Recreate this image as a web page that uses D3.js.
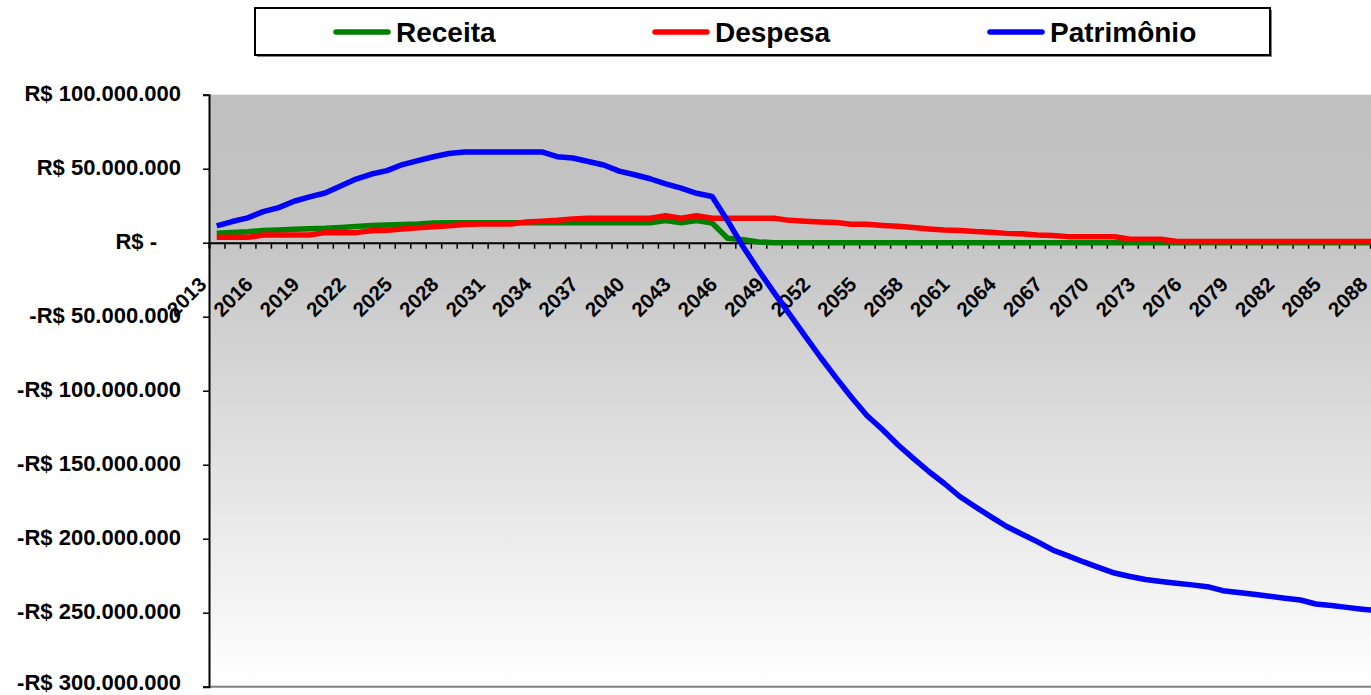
<!DOCTYPE html>
<html>
<head>
<meta charset="utf-8">
<title>Receita, Despesa e Patrimônio</title>
<script src="https://d3js.org/d3.v7.min.js"></script>
<style>
  body { margin: 0; background: #fff; }
  svg { display: block; font-family: "Liberation Sans", Arial, sans-serif; font-weight: bold; }
</style>
</head>
<body>
<svg width="1371" height="695"></svg>
<script>

// values in R$ millions, one per year 2013..2088
var years = d3.range(2013, 2089);

var receita = [6.4, 6.9, 7.4, 8.2, 8.6, 9.1, 9.4, 9.7, 10.3, 10.9, 11.6, 12.0, 12.3, 12.6, 13.3,
  13.5, 13.5, 13.5, 13.5, 13.5, 13.5, 13.5, 13.5, 13.5, 13.5, 13.5, 13.5, 13.5, 13.5,
  14.9, 13.5, 14.9, 13.3, 3.0, 2.0, 0.5,
  0, 0, 0, 0, 0, 0, 0, 0, 0, 0, 0, 0, 0, 0, 0, 0, 0, 0, 0, 0,
  0, 0, 0, 0, 0, 0, 0, 0, 0, 0, 0, 0, 0, 0, 0, 0, 0, 0, 0, 0];

var despesa = [3.6, 3.6, 3.6, 5.2, 5.2, 5.2, 5.2, 6.8, 6.8, 6.8,
  8.1, 8.4, 9.3, 10.1, 10.8, 11.5, 12.3, 12.6, 12.6, 12.6,
  14.0, 14.5, 15.1, 16.0, 16.5, 16.5, 16.5, 16.5, 16.5, 18.2, 16.5, 18.2,
  16.5, 16.5, 16.5, 16.5, 16.5,
  15.1, 14.5, 14.0, 13.6, 12.5, 12.5, 11.7, 11.1, 10.2, 9.3, 8.6, 8.2, 7.5, 7.1, 6.3, 6.0,
  5.2, 4.9, 4.1, 4.1, 4.1, 4.0, 2.3, 2.3, 2.3,
  0.8, 0.8, 0.8, 0.8, 0.8, 0.8, 0.8, 0.8, 0.8, 0.8, 0.8, 0.8, 0.8, 0.8];

var patrimonio = [11.3, 14.3, 16.8, 21.0, 23.7, 28.0, 31.0, 33.6, 38.3, 43.0, 46.4, 48.7, 52.8, 55.5, 58.1, 60.3,
  61.3, 61.3, 61.3, 61.3, 61.3, 61.3,
  58.1, 57.2, 54.9, 52.5, 48.4, 45.9, 43.2, 39.7, 36.9, 33.4, 31.2,
  14.9, -2.7, -18.6, -33.7, -48.2, -62.9, -77.4, -91.2, -104.4, -116.7,
  -126.2, -136.5, -145.7, -154.6, -162.7, -171.5, -178.4, -185.1, -191.6, -196.8,
  -202.0, -207.6, -211.6, -215.7, -219.5, -223.2, -225.5, -227.6, -228.9, -230.1,
  -231.2, -232.4, -235.1, -236.4, -237.6, -238.9, -240.2, -241.4, -244.1, -245.2,
  -246.4, -247.6, -248.7];

var seriesNames = ["Receita", "Despesa", "Patrimônio"];
var yTicks = [100, 50, 0, -50, -100, -150, -200, -250, -300];
var xLabelYears = years.filter(function(d) { return (d - 2013) % 3 === 0; });

var colors = { "Receita": "#008000", "Despesa": "#ff0000", "Patrimônio": "#0000ff" };
var seriesData = { "Receita": receita, "Despesa": despesa, "Patrimônio": patrimonio };

var svg = d3.select("svg");

var plotLeft = 209, plotTop = 94.7, plotBottom = 686.7, step = 15.48;
var plotRight = plotLeft + years.length * step;

var x = d3.scaleBand().domain(years).range([plotLeft, plotRight]).padding(0);
var xEdge = d3.scaleLinear().domain([0, years.length]).range([plotLeft, plotRight]);
var y = d3.scaleLinear().domain([-300, 100]).range([plotBottom, plotTop]);

var ptBR = d3.formatLocale({ decimal: ",", thousands: ".", grouping: [3], currency: ["R$ ", ""] });
var num = ptBR.format(",.0f");
function money(v) {
  if (v === 0) return "R$ -";
  return (v < 0 ? "-" : "") + "R$ " + num(Math.abs(v) * 1e6);
}

// plot background
var defs = svg.append("defs");
var grad = defs.append("linearGradient").attr("id", "bg")
    .attr("x1", 0).attr("y1", 0).attr("x2", 0).attr("y2", 1);
grad.append("stop").attr("offset", "0%").attr("stop-color", "#c0c0c0");
grad.append("stop").attr("offset", "24%").attr("stop-color", "#c4c4c4");
grad.append("stop").attr("offset", "100%").attr("stop-color", "#ffffff");

svg.append("rect")
    .attr("x", plotLeft).attr("y", plotTop)
    .attr("width", plotRight - plotLeft).attr("height", plotBottom - plotTop)
    .attr("fill", "url(#bg)");
svg.append("line").attr("x1", plotLeft).attr("x2", plotRight).attr("y1", plotBottom).attr("y2", plotBottom)
    .attr("stroke", "#808080").attr("stroke-width", 2);

// y axis
var yAxis = svg.append("g")
    .attr("transform", "translate(" + plotLeft + ",0)")
    .call(d3.axisLeft(y).tickValues(yTicks).tickSize(6).tickFormat(""));
yAxis.select(".domain").attr("stroke", "#000").attr("stroke-width", 2);
yAxis.selectAll(".tick line").attr("stroke", "#000").attr("stroke-width", 1.5);

svg.append("g").selectAll("text")
    .data(yTicks)
  .enter().append("text")
    .attr("x", function(d) { return d === 0 ? 157 : 181; })
    .attr("y", function(d) { return Math.min(y(d) + 6, 690); })
    .attr("text-anchor", "end")
    .attr("font-size", 22)
    .text(money);

// zero line with category ticks
var xAxis = svg.append("g")
    .attr("transform", "translate(0," + y(0) + ")")
    .call(d3.axisBottom(xEdge).tickValues(d3.range(0, years.length + 1)).tickSize(6).tickFormat(""));
xAxis.select(".domain").attr("stroke", "#000").attr("stroke-width", 2);
xAxis.selectAll(".tick line").attr("stroke", "#000").attr("stroke-width", 1.5);

svg.append("g").selectAll("text")
    .data(xLabelYears)
  .enter().append("text")
    .attr("transform", function(d) {
      return "translate(" + (x(d) + x.bandwidth() / 2 - 9) + "," + (y(0) + 43) + ") rotate(-45)";
    })
    .attr("text-anchor", "end")
    .attr("font-size", 20.5)
    .text(function(d) { return d; });

// lines
var line = d3.line()
    .x(function(d, i) { return x(years[i]) + x.bandwidth() / 2; })
    .y(function(d) { return y(d); });

svg.append("g").selectAll("path")
    .data(seriesNames)
  .enter().append("path")
    .attr("d", function(s) { return line(seriesData[s]); })
    .attr("fill", "none")
    .attr("stroke", function(s) { return colors[s]; })
    .attr("stroke-width", 5.5)
    .attr("stroke-linejoin", "round");

// legend
var legend = svg.append("g");
legend.append("rect").attr("x", 257).attr("y", 10).attr("width", 1015).attr("height", 47).attr("fill", "#808080");
legend.append("rect").attr("x", 255).attr("y", 8).attr("width", 1015).attr("height", 47)
    .attr("fill", "#fff").attr("stroke", "#000").attr("stroke-width", 2);

var legendX = [336, 655, 990];
var item = legend.selectAll(".item")
    .data(seriesNames)
  .enter().append("g")
    .attr("class", "item")
    .attr("transform", function(d, i) { return "translate(" + legendX[i] + ",0)"; });
item.append("line")
    .attr("x1", 0).attr("x2", 52).attr("y1", 32).attr("y2", 32)
    .attr("stroke", function(d) { return colors[d]; })
    .attr("stroke-width", 5.5).attr("stroke-linecap", "round");
item.append("text")
    .attr("x", 60).attr("y", 42)
    .attr("font-size", 28)
    .text(function(d) { return d; });

</script>
</body>
</html>
